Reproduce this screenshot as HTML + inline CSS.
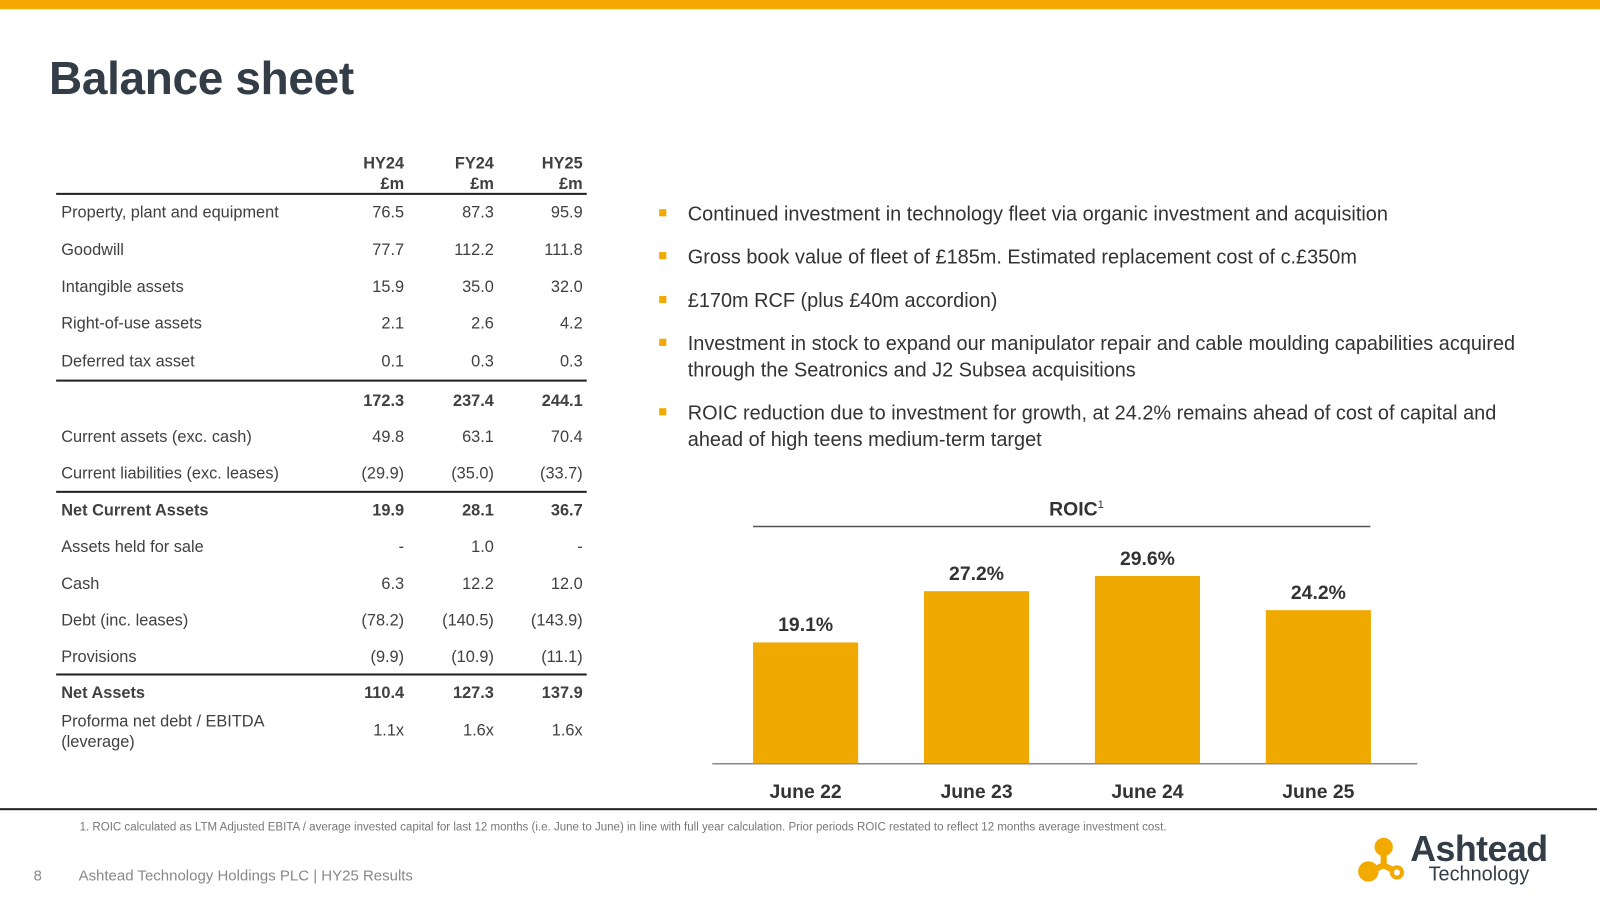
<!DOCTYPE html>
<html><head><meta charset="utf-8"><style>
html,body{margin:0;width:1600px;height:900px;overflow:hidden;background:#fff}
#wrap{position:absolute;left:0;top:0;width:1568px;height:882px;transform:scale(1.020408);transform-origin:0 0;font-family:"Liberation Sans",sans-serif;color:#404040}
.a{position:absolute;white-space:nowrap}
.lbl{left:60px;font-size:16px}
.v{font-size:16px;text-align:right;width:80px}
.b{font-weight:bold}
.hl{position:absolute;left:55px;width:520px;height:2px;background:#222}
.bul{position:absolute;left:674px;font-size:19.5px;line-height:26px;color:#333}
.sq{position:absolute;left:646px;width:7px;height:7px;background:#f2a900}
</style></head><body>
<div id="wrap">
<div class="a" style="left:0;top:0;width:1568px;height:9px;background:#f5a800"></div>
<div class="a" style="left:48px;top:51px;font-size:45px;font-weight:bold;color:#333d47;letter-spacing:-0.3px">Balance sheet</div>

<div id="tbl"></div>

<div>
<div class="sq" style="top:205px"></div><div class="bul" style="top:197px">Continued investment in technology fleet via organic investment and acquisition</div>
<div class="sq" style="top:247px"></div><div class="bul" style="top:239px">Gross book value of fleet of £185m. Estimated replacement cost of c.£350m</div>
<div class="sq" style="top:290px"></div><div class="bul" style="top:282px">£170m RCF (plus £40m accordion)</div>
<div class="sq" style="top:332px"></div><div class="bul" style="top:324px">Investment in stock to expand our manipulator repair and cable moulding capabilities acquired<br>through the Seatronics and J2 Subsea acquisitions</div>
<div class="sq" style="top:400px"></div><div class="bul" style="top:392px">ROIC reduction due to investment for growth, at 24.2% remains ahead of cost of capital and<br>ahead of high teens medium-term target</div>
</div>

<svg class="a" style="left:0;top:0" width="1568" height="882" id="chart">
<text x="1055" y="505" text-anchor="middle" font-size="19" font-weight="bold" fill="#333">ROIC<tspan font-size="11" dy="-7" font-weight="normal">1</tspan></text>
<line x1="738" x2="1343" y1="516" y2="516" stroke="#555" stroke-width="1.5"/>
<line x1="698" x2="1389" y1="748.5" y2="748.5" stroke="#888" stroke-width="1.5"/>
</svg>

<div class="a" style="left:0;top:792px;width:1565px;height:2px;background:#222"></div>
<div class="a" style="left:78px;top:805px;font-size:11.3px;color:#777">1. ROIC calculated as LTM Adjusted EBITA / average invested capital for last 12 months (i.e. June to June) in line with full year calculation. Prior periods ROIC restated to reflect 12 months average investment cost.</div>
<div class="a" style="left:33px;top:851px;font-size:14.5px;color:#888">8</div>
<div class="a" style="left:77px;top:851px;font-size:14.7px;color:#888">Ashtead Technology Holdings PLC | HY25 Results</div>
<div>
<svg class="a" style="left:1328px;top:818px" width="52" height="50">
<g stroke="#f2a900" stroke-width="6" fill="none"><line x1="28" y1="12" x2="28" y2="30"/><line x1="28" y1="30" x2="14" y2="36"/><line x1="28" y1="30" x2="40" y2="36"/></g>
<circle cx="28" cy="12" r="9" fill="#f2a900"/><circle cx="13" cy="36" r="10" fill="#f2a900"/><circle cx="41" cy="37" r="7" fill="#f2a900"/><circle cx="41" cy="37" r="3" fill="#fff"/>
</svg>
<div class="a" style="left:1382px;top:813px;font-size:35px;font-weight:bold;color:#333d47;letter-spacing:-0.5px">Ashtead</div>
<div class="a" style="left:1400px;top:846px;font-size:19.5px;color:#333d47">Technology</div>
</div>
</div>

<script>
const rowLabels=["Property, plant and equipment","Goodwill","Intangible assets","Right-of-use assets","Deferred tax asset","","Current assets (exc. cash)","Current liabilities (exc. leases)","Net Current Assets","Assets held for sale","Cash","Debt (inc. leases)","Provisions","Net Assets","Proforma net debt / EBITDA<br>(leverage)"];
const hy24=["76.5","77.7","15.9","2.1","0.1","172.3","49.8","(29.9)","19.9","-","6.3","(78.2)","(9.9)","110.4","1.1x"];
const fy24=["87.3","112.2","35.0","2.6","0.3","237.4","63.1","(35.0)","28.1","1.0","12.2","(140.5)","(10.9)","127.3","1.6x"];
const hy25=["95.9","111.8","32.0","4.2","0.3","244.1","70.4","(33.7)","36.7","-","12.0","(143.9)","(11.1)","137.9","1.6x"];
const rowY=[209,246,282,318,355,394,429,465,501,537,573,609,645,680,717];
const boldRows=[5,8,13];
const t=document.getElementById('tbl');
let h='';
[["HY24",316],["FY24",404],["HY25",491]].forEach(c=>{h+=`<div class="a v b" style="left:${c[1]}px;top:151px;line-height:20px">${c[0]}<br>£m</div>`});
[189,372,481,660].forEach(y=>h+=`<div class="hl" style="top:${y}px"></div>`);
t.innerHTML=h;
rowLabels.forEach((l,i)=>{
 const b=boldRows.includes(i)?' b':'';
 const tl=i==14?rowY[i]-19:rowY[i]-10;
 const d=document.createElement('div');d.className='a lbl'+b;d.style.top=tl+'px';d.style.lineHeight='20px';d.innerHTML=l;
 
 
 t.appendChild(d);
 [[hy24,316],[fy24,404],[hy25,491]].forEach(c=>{
  const e=document.createElement('div');e.className='a v'+b;e.style.left=c[1]+'px';e.style.top=(rowY[i]-10)+'px';e.style.lineHeight='20px';e.textContent=c[0][i];
  
  
  t.appendChild(e);
 });
});

const cats=["June 22","June 23","June 24","June 25"];
const roic=[19.1,27.2,29.6,24.2];
const svg=document.getElementById('chart');const NS="http://www.w3.org/2000/svg";
const y=v=>748-v*6.2;const x=i=>789.5+i*167.5;const bw=103;
cats.forEach((c,i)=>{
 const r=document.createElementNS(NS,'rect');
 r.setAttribute('x',x(i)-bw/2);r.setAttribute('y',y(roic[i]));r.setAttribute('width',bw);r.setAttribute('height',748-y(roic[i]));r.setAttribute('fill','#f0a900');
 
 
 svg.appendChild(r);
 const tv=document.createElementNS(NS,'text');tv.setAttribute('x',x(i));tv.setAttribute('y',y(roic[i])-11);tv.setAttribute('text-anchor','middle');tv.setAttribute('font-size','19');tv.setAttribute('font-weight','bold');tv.setAttribute('fill','#333');tv.textContent=roic[i].toFixed(1)+'%';
 
 
 svg.appendChild(tv);
 const tc=document.createElementNS(NS,'text');tc.setAttribute('x',x(i));tc.setAttribute('y',782);tc.setAttribute('text-anchor','middle');tc.setAttribute('font-size','19');tc.setAttribute('font-weight','bold');tc.setAttribute('fill','#333');tc.textContent=c;
 
 
 svg.appendChild(tc);
});
</script>
</body></html>
